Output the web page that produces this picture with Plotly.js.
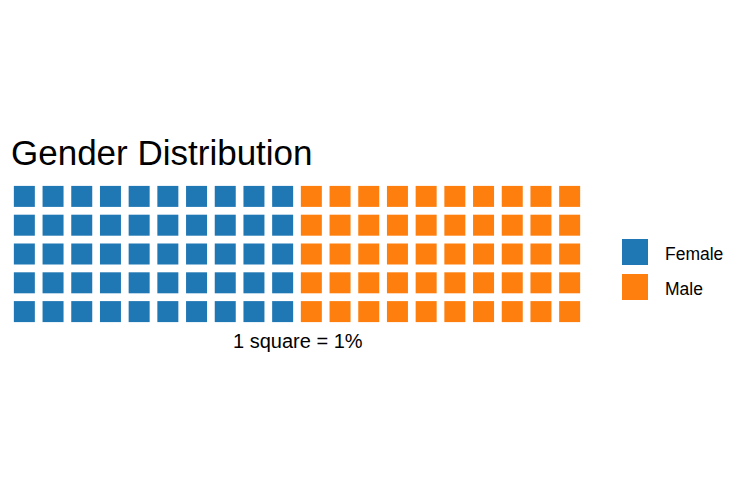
<!DOCTYPE html>
<html>
<head>
<meta charset="utf-8">
<script src="https://cdn.plot.ly/plotly-3.0.1.min.js"></script>
<style>html,body{margin:0;padding:0;background:#fff;}#chart{width:745px;height:489px;}</style>
</head>
<body>
<div id="chart"></div>
<script>
const categories = ['Female', 'Male'];
const values = [50, 50];
const colors = ['#1f77b4', '#ff7f0e'];
const rows = 5;
const cols = 20;
const unitLabel = '1 square = 1%';
const chartTitle = 'Gender Distribution';

const traces = [];
let idx = 0;
categories.forEach((cat, k) => {
  const xs = [], ys = [];
  for (let n = 0; n < values[k]; n++, idx++) {
    xs.push(Math.floor(idx / rows) + 1);
    ys.push((idx % rows) + 1);
  }
  traces.push({
    type: 'scatter', mode: 'markers', name: cat, x: xs, y: ys,
    marker: {symbol: 'square', size: 21, color: colors[k], line: {width: 0}},
    showlegend: false, hoverinfo: 'name'
  });
});

const layout = {
  width: 745, height: 489,
  margin: {l: 10, r: 161, t: 182, b: 163},
  paper_bgcolor: '#fff', plot_bgcolor: '#fff',
  font: {family: 'Liberation Sans, Arial, sans-serif', color: '#000'},
  title: {text: chartTitle, xref: 'container', yref: 'container', x: 11 / 745, xanchor: 'left',
          y: 1 - 153 / 489, yanchor: 'middle', font: {size: 35, color: '#000'}},
  xaxis: {range: [0.5, cols + 0.5], showgrid: false, zeroline: false, showticklabels: false, ticks: '',
          showline: false, fixedrange: true},
  yaxis: {range: [rows + 0.5, 0.5], showgrid: false, zeroline: false, showticklabels: false, ticks: '',
          showline: false, fixedrange: true},
  showlegend: false,
  shapes: [],
  annotations: []
};

const plotW = 745 - layout.margin.l - layout.margin.r;
const plotH = 489 - layout.margin.t - layout.margin.b;
const px = v => (v - layout.margin.l) / plotW;
const py = v => (489 - layout.margin.b - v) / plotH;

layout.annotations.push({xref: 'paper', yref: 'paper', x: px(298), y: py(341),
  xanchor: 'center', yanchor: 'middle', showarrow: false, text: unitLabel,
  font: {size: 20, color: '#000'}});

// custom legend
categories.forEach((cat, k) => {
  const top = 239 + k * 35, bottom = top + 26;
  layout.shapes.push({type: 'rect', xref: 'paper', yref: 'paper',
    x0: px(622), x1: px(648), y0: py(bottom), y1: py(top),
    fillcolor: colors[k], line: {width: 0}});
  layout.annotations.push({xref: 'paper', yref: 'paper', x: px(663), y: py((top + bottom) / 2 + 1.5),
    xanchor: 'left', yanchor: 'middle', showarrow: false, text: cat,
    font: {size: 17.5, color: '#000'}});
});

Plotly.newPlot('chart', traces, layout, {displayModeBar: false, staticPlot: true});
</script>
</body>
</html>
